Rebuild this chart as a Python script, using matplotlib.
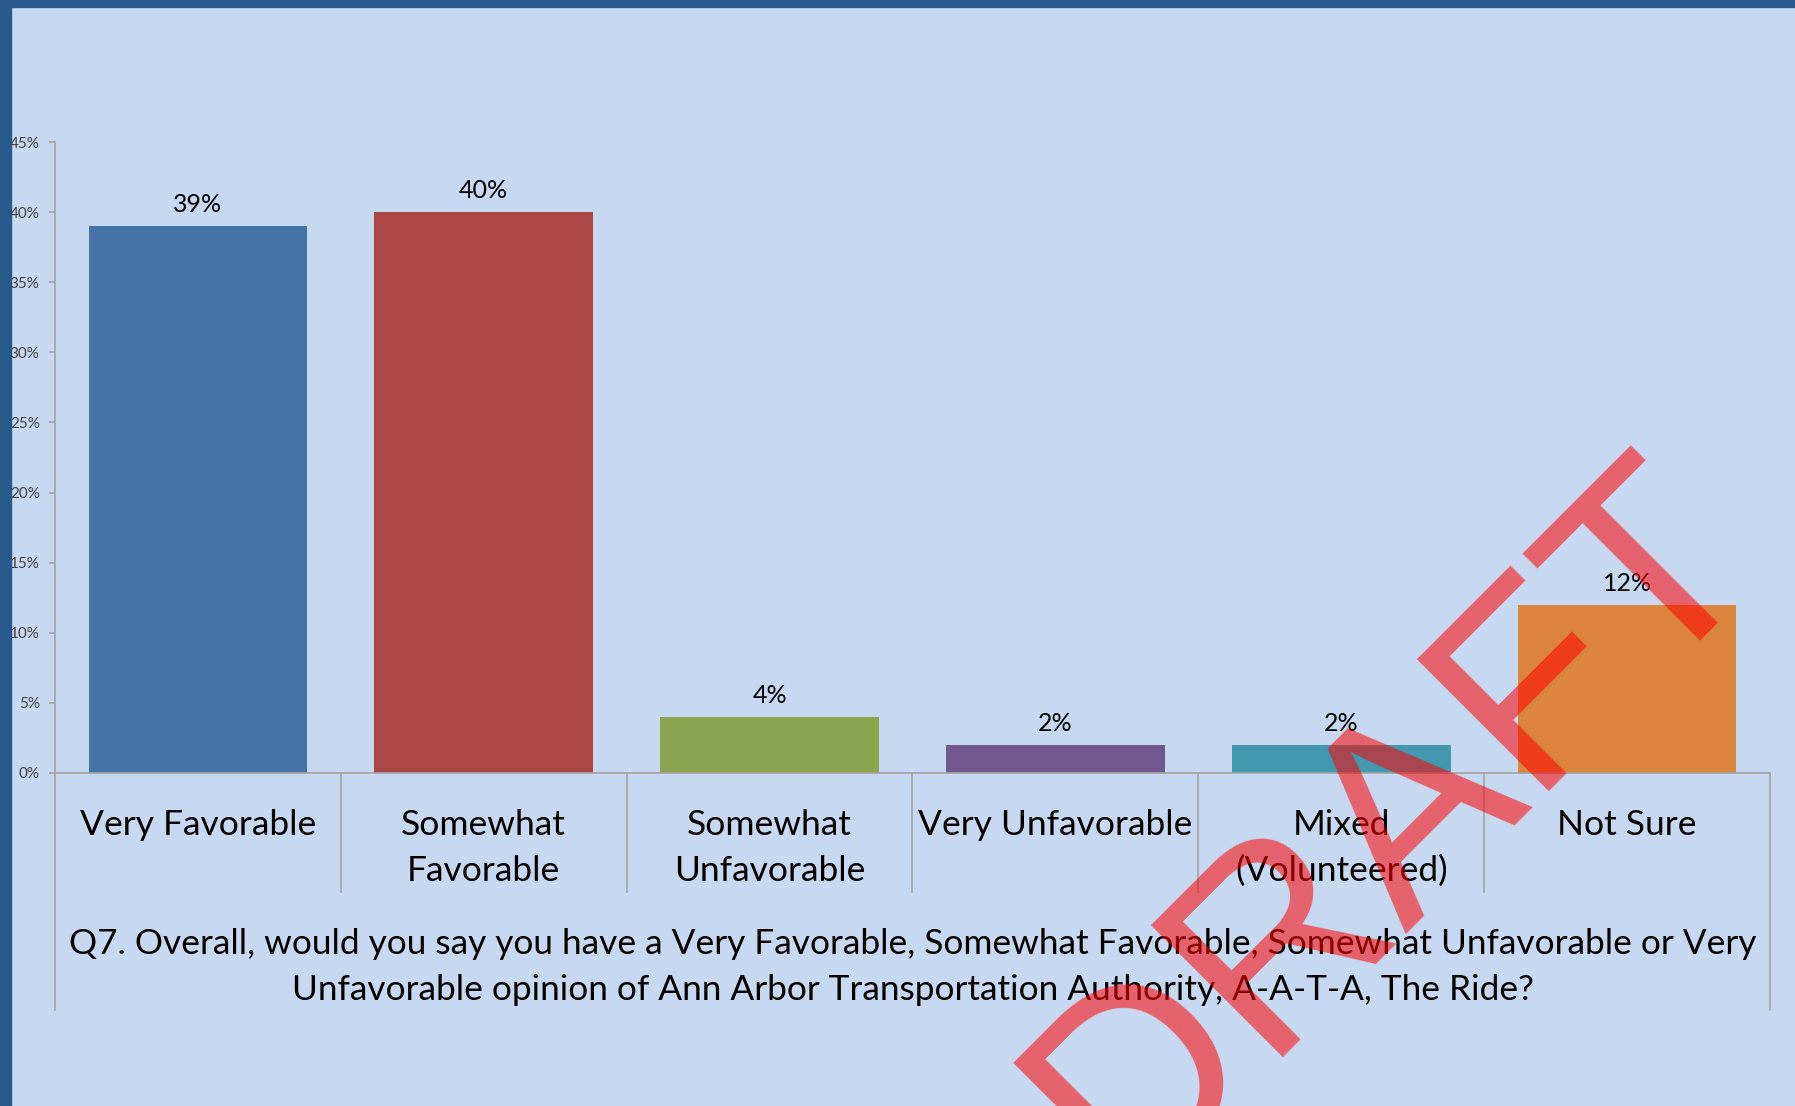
import matplotlib
matplotlib.use("Agg")
import matplotlib.pyplot as plt
from matplotlib.patches import Rectangle
from matplotlib.transforms import blended_transform_factory

# data
categories = ["Very Favorable", "Somewhat\nFavorable", "Somewhat\nUnfavorable",
              "Very Unfavorable", "Mixed\n(Volunteered)", "Not Sure"]
values = [39, 40, 4, 2, 2, 12]
bar_colors = ["#4572A7", "#AA4643", "#89A54E", "#71588F", "#4198AF", "#DB843D"]
y_ticks = [0, 5, 10, 15, 20, 25, 30, 35, 40, 45]
question = ("Q7. Overall, would you say you have a Very Favorable, Somewhat Favorable, "
            "Somewhat Unfavorable or Very\nUnfavorable opinion of Ann Arbor Transportation "
            "Authority, A-A-T-A, The Ride?")

# style
bg = "#C6D9F0"
frame = "#A3A3A3"
border = "#285A8E"
font = ["Lato", "DejaVu Sans"]
W, H = 1795, 1106

fig = plt.figure(figsize=(W / 100, H / 100), dpi=100, facecolor=bg)
ax = fig.add_axes([55 / W, 1 - 773 / H, (1770 - 55) / W, (773 - 142) / H])
ax.set_facecolor(bg)

x = list(range(len(values)))
ax.bar(x, values, width=0.765, color=bar_colors, zorder=2)
ax.set_xlim(-0.5, len(values) - 0.5)
ax.set_ylim(0, 45)
ax.set_yticks(y_ticks)
ax.set_yticklabels([f"{t}%" for t in y_ticks], fontsize=11, color="#404040", family=font)
ax.tick_params(axis="y", length=4, width=1.2, color=frame, pad=7)
ax.set_xticks([])
for s in ["top", "right"]:
    ax.spines[s].set_visible(False)
for s in ["left", "bottom"]:
    ax.spines[s].set_color(frame)
    ax.spines[s].set_linewidth(1.2)

# value labels
for i, v in enumerate(values):
    ax.annotate(f"{v}%", (i, v), xytext=(0, 10), textcoords="offset points",
                ha="center", va="baseline", fontsize=18, family=font)

# category axis frame (two levels)
tr = blended_transform_factory(ax.transData, ax.transAxes)
n = len(values)
for k in range(n + 1):
    low = -0.376 if k in (0, n) else -0.189
    ax.plot([k - 0.5, k - 0.5], [0, low], transform=tr, clip_on=False,
            color=frame, lw=1.2)

line_gap = 0.0735
for i, lab in enumerate(categories):
    for j, part in enumerate(lab.split("\n")):
        ax.text(i, -0.098 - j * line_gap, part, transform=tr, ha="center",
                va="baseline", fontsize=25.5, family=font)

for j, part in enumerate(question.split("\n")):
    ax.text(0.5, -0.287 - j * line_gap, part, transform=ax.transAxes, ha="center",
            va="baseline", fontsize=25.4, family=font)

# slide border
fig.add_artist(Rectangle((0, 1 - 7 / H), 1, 7 / H, transform=fig.transFigure,
                         color=border, zorder=0))
fig.add_artist(Rectangle((0, 0), 11 / W, 1, transform=fig.transFigure,
                         color=border, zorder=0))

# watermark
fig.text(1443 / W, 1 - 876 / H, "DRAFT", rotation=45, rotation_mode="anchor",
         ha="center", va="baseline", fontsize=195, color="red", alpha=0.55,
         family="Liberation Sans", zorder=10)

fig.savefig("out.png", dpi=100, facecolor=bg)
